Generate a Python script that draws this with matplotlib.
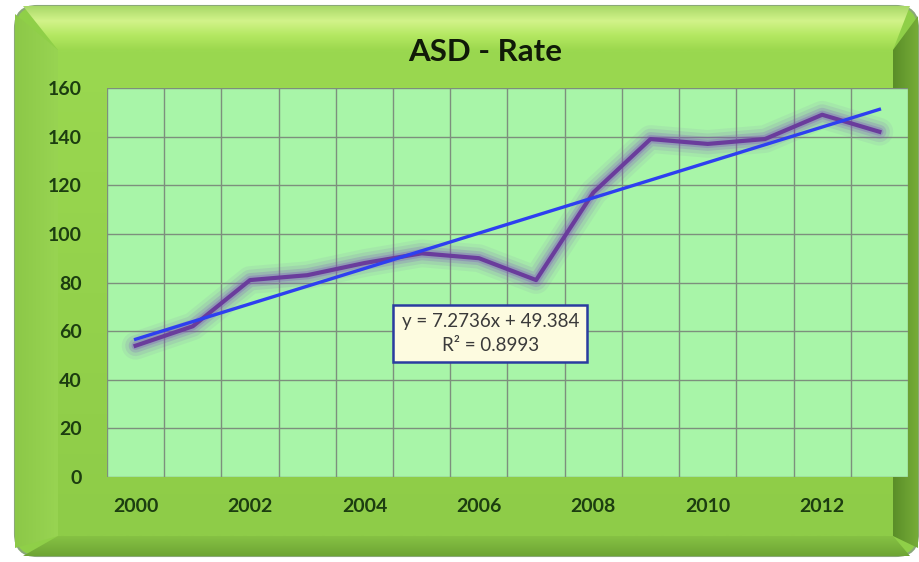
import numpy as np
import matplotlib.pyplot as plt
from matplotlib.patches import FancyBboxPatch, Polygon

# ASD rate by year
years = list(range(2000, 2014))
rate = [54, 62, 81, 83, 88, 92, 90, 81, 117, 139, 137, 139, 149, 142]

# linear trend (x = 1..n), as reported by the spreadsheet
slope = 7.2736
intercept = 49.384
r_squared = 0.8993

tick_years = [2000, 2002, 2004, 2006, 2008, 2010, 2012]
y_ticks = [0, 20, 40, 60, 80, 100, 120, 140, 160]

W, H = 920, 562
fig = plt.figure(figsize=(W / 100, H / 100), dpi=100)
fig.patch.set_facecolor('white')

# background frame drawn in pixel coordinates
bg = fig.add_axes([0, 0, 1, 1], zorder=0)
bg.set_xlim(0, W)
bg.set_ylim(H, 0)
bg.axis('off')

x0, x1, y0, y1 = 15, 918, 6, 556
il, ir, it, ib = 58, 893, 50, 536

frame = FancyBboxPatch((x0, y0), x1 - x0, y1 - y0,
                       boxstyle='round,pad=0,rounding_size=22',
                       facecolor='#8fcf48', edgecolor='#8aa878', lw=1.5)
bg.add_patch(frame)

def grad_band(pts, stops, vertical=True):
    poly = Polygon(pts, closed=True, facecolor='none', edgecolor='none')
    bg.add_patch(poly)
    xs = [p[0] for p in pts]
    ys = [p[1] for p in pts]
    g = np.linspace(0, 1, 128)
    pos = np.linspace(0, 1, len(stops))
    cols = np.array([plt.matplotlib.colors.to_rgb(c) for c in stops])
    img = np.stack([np.interp(g, pos, cols[:, k]) for k in range(3)], axis=1)
    if vertical:
        img = img[:, None, :]
    else:
        img = img[None, :, :]
    im = bg.imshow(img, extent=[min(xs), max(xs), max(ys), min(ys)],
                   aspect='auto', interpolation='bilinear', zorder=1)
    im.set_clip_path(poly)

# bevel bands
grad_band([(x0 + 8, y0), (x1 - 8, y0), (ir, it), (il, it)],
          ['#a8d868', '#d2f38a', '#b4e862', '#9cd84e'])
grad_band([(x0, y0 + 8), (il, it), (il, ib), (x0, y1 - 8)],
          ['#8cc848', '#98d452'], vertical=False)
grad_band([(x1, y0 + 10), (x1, y1 - 8), (ir, ib), (ir, it)],
          ['#5a8e28', '#76ac38'], vertical=False)
grad_band([(il, ib), (ir, ib), (x1 - 8, y1), (x0 + 8, y1)],
          ['#86c244', '#6ea434'])
grad_band([(il, it), (ir, it), (ir, ib), (il, ib)], ['#9ad850', '#8ecc48'])

# chart area
ax = fig.add_axes([107 / W, 1 - 477 / H, 801 / W, 389 / H], zorder=2)
ax.set_facecolor('#a8f5a8')
n = len(years)
x = np.arange(n)
ax.set_xlim(-0.5, n - 0.5)
ax.set_ylim(0, 160)

ax.set_xticks([years.index(t) for t in tick_years])
ax.set_xticklabels([str(t) for t in tick_years])
ax.set_xticks(np.arange(-0.5, n, 1), minor=True)
ax.set_yticks(y_ticks)
ax.grid(True, which='minor', axis='x', color='#7d8f7d', lw=1)
ax.grid(True, which='major', axis='y', color='#7d8f7d', lw=1)
ax.set_axisbelow(True)
ax.tick_params(which='both', length=0)
ax.tick_params(axis='x', pad=15)
ax.tick_params(axis='y', pad=18)
for lbl in ax.get_xticklabels() + ax.get_yticklabels():
    lbl.set_fontfamily('Lato')
    lbl.set_fontweight('bold')
    lbl.set_fontsize(14)
    lbl.set_color('#1c3d10')
for s in ax.spines.values():
    s.set_visible(False)

# purple series with soft glow
for w, a in [(20, 0.08), (15, 0.12), (10, 0.2), (6, 0.3)]:
    ax.plot(x, rate, color='#8050c0', lw=w, alpha=a, solid_capstyle='round',
            solid_joinstyle='round', zorder=3)
ax.plot(x, rate, color='#6a3c9c', lw=3, solid_joinstyle='round', zorder=4)

# trend line
xt = np.arange(1, n + 1)
ax.plot(x, slope * xt + intercept, color='#2e3ff0', lw=2.4, zorder=5)

ax.text(6.2, 59, f'y = {slope}x + {intercept}\nR² = {r_squared}',
        ha='center', va='center', fontsize=13.5, family='Lato', color='#3a3a3a',
        linespacing=1.45, zorder=6,
        bbox=dict(boxstyle='square,pad=0.45', facecolor='#fdfbe0',
                  edgecolor='#2a3ca0', lw=1.8))

fig.text(485 / W, 1 - 52 / H, 'ASD - Rate', ha='center', va='center',
         fontsize=22.5, fontweight='bold', family='Lato', color='#101a08')

fig.savefig('out.png', dpi=100)
